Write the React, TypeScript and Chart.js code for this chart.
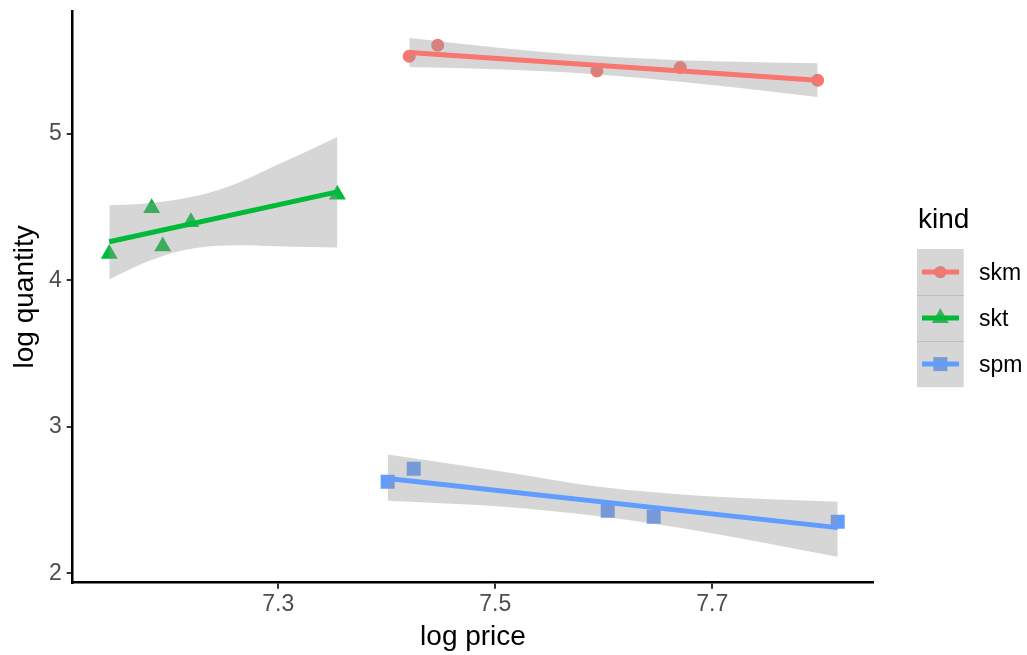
import React, { useEffect, useRef } from "react";
import { Chart, registerables } from "chart.js";
Chart.register(...registerables);

const FONT = "'Liberation Sans', Arial, Helvetica, sans-serif";

const kinds = ["skm", "skt", "spm"];
const kindColors = ["#F8766D", "#00BA38", "#619CFF"];
const keyMarkerColors = ["#D2847F", "#3DAD5F", "#779BD6"];
const pointStyles = ["circle", "triangle", "rect"];
const pointRadii = [6.5, 9.8, 9.9];

const xTicks = [7.3, 7.5, 7.7];
const yTicks = [2, 3, 4, 5];

// observed points
const skmX = [7.4207, 7.4469, 7.5937, 7.6705, 7.7971];
const skmY = [5.531, 5.606, 5.431, 5.454, 5.367];
const sktX = [7.1442, 7.1833, 7.1935, 7.2195, 7.3544];
const sktY = [4.182, 4.494, 4.233, 4.399, 4.586];
const spmX = [7.4008, 7.4248, 7.6036, 7.646, 7.8156];
const spmY = [2.625, 2.714, 2.427, 2.386, 2.352];

// fitted lines
const skmFitX = [7.4207, 7.7971];
const skmFitY = [5.556, 5.367];
const sktFitX = [7.1442, 7.3544];
const sktFitY = [4.264, 4.605];
const spmFitX = [7.4008, 7.8156];
const spmFitY = [2.648, 2.312];

// confidence bands
const skmBandX = [7.4207, 7.5074, 7.5937, 7.6705, 7.7338, 7.7971];
const skmBandHi = [5.656, 5.586, 5.532, 5.504, 5.491, 5.483];
const skmBandLo = [5.457, 5.44, 5.407, 5.357, 5.307, 5.252];
const sktBandX = [7.1442, 7.175, 7.206, 7.237, 7.268, 7.299, 7.33, 7.3544];
const sktBandHi = [4.514, 4.524, 4.551, 4.6, 4.683, 4.79, 4.895, 4.98];
const sktBandLo = [4.007, 4.116, 4.195, 4.234, 4.241, 4.234, 4.229, 4.225];
const spmBandX = [7.4008, 7.5074, 7.5996, 7.6917, 7.8156];
const spmBandHi = [2.812, 2.694, 2.587, 2.528, 2.489];
const spmBandLo = [2.496, 2.455, 2.386, 2.284, 2.113];

const X_MIN = 7.1105;
const X_MAX = 7.8484;
const Y_MIN = 1.936;
const Y_MAX = 5.84;

const zip = (xs: number[], ys: number[]) => xs.map((x, i) => ({ x, y: ys[i] }));

const pointsAll = [
  [skmX, skmY],
  [sktX, sktY],
  [spmX, spmY],
];
const fitsAll = [
  [skmFitX, skmFitY],
  [sktFitX, sktFitY],
  [spmFitX, spmFitY],
];
const bandsAll = [
  [skmBandX, skmBandHi, skmBandLo],
  [sktBandX, sktBandHi, sktBandLo],
  [spmBandX, spmBandHi, spmBandLo],
];

function buildDatasets() {
  const ds: any[] = [];
  kinds.forEach((k, i) => {
    ds.push({
      label: k + " points",
      data: zip(pointsAll[i][0], pointsAll[i][1]),
      showLine: false,
      pointStyle: pointStyles[i],
      pointRadius: pointRadii[i],
      pointBackgroundColor: kindColors[i],
      pointBorderWidth: 0,
      pointBorderColor: "transparent",
      order: 3,
    });
  });
  kinds.forEach((k, i) => {
    const [bx, hi, lo] = bandsAll[i];
    const upperIndex = ds.length;
    ds.push({
      label: k + " upper",
      data: zip(bx, hi),
      showLine: true,
      borderColor: "transparent",
      borderWidth: 0,
      pointRadius: 0,
      cubicInterpolationMode: "monotone",
      backgroundColor: "rgba(153,153,153,0.4)",
      fill: { target: upperIndex + 1 },
      order: 2,
    });
    ds.push({
      label: k + " lower",
      data: zip(bx, lo),
      showLine: true,
      borderColor: "transparent",
      borderWidth: 0,
      pointRadius: 0,
      cubicInterpolationMode: "monotone",
      fill: false,
      order: 2,
    });
  });
  kinds.forEach((k, i) => {
    ds.push({
      label: k,
      data: zip(fitsAll[i][0], fitsAll[i][1]),
      showLine: true,
      borderColor: kindColors[i],
      borderWidth: 5,
      pointRadius: 0,
      fill: false,
      order: 1,
    });
  });
  return ds;
}

function LegendKey({ idx }: { idx: number }) {
  const w = 46.7;
  const h = 46.2;
  const cy = h / 2;
  const cx = w / 2;
  let marker: React.ReactNode = null;
  if (pointStyles[idx] === "circle") {
    marker = <circle cx={cx} cy={cy} r={6.2} fill={keyMarkerColors[idx]} />;
  } else if (pointStyles[idx] === "triangle") {
    const r = 9.8;
    const p = [
      [cx, cy - r],
      [cx + r * Math.sin((2 * Math.PI) / 3), cy + r * 0.5],
      [cx - r * Math.sin((2 * Math.PI) / 3), cy + r * 0.5],
    ]
      .map((q) => q.join(","))
      .join(" ");
    marker = <polygon points={p} fill={keyMarkerColors[idx]} />;
  } else {
    marker = <rect x={cx - 7} y={cy - 7} width={14} height={14} fill={keyMarkerColors[idx]} />;
  }
  return (
    <svg width={w} height={h} style={{ display: "block" }}>
      <rect x={0} y={0} width={w} height={h} fill="#D6D6D6" />
      {marker}
      <line x1={5} x2={42} y1={cy} y2={cy} stroke={kindColors[idx]} strokeWidth={5} />
    </svg>
  );
}

export default function App() {
  const ref = useRef<HTMLCanvasElement | null>(null);

  useEffect(() => {
    if (!ref.current) return;
    const chart = new Chart(ref.current, {
      type: "scatter",
      data: { datasets: buildDatasets() },
      options: {
        animation: false,
        responsive: false,
        devicePixelRatio: 1,
        layout: { padding: { top: 11, right: 153.7, left: 0, bottom: 0 } },
        plugins: {
          legend: { display: false },
          tooltip: { enabled: false },
        },
        scales: {
          x: {
            type: "linear",
            min: X_MIN,
            max: X_MAX,
            afterBuildTicks: (s: any) => {
              s.ticks = xTicks.map((v) => ({ value: v }));
            },
            afterFit: (s: any) => {
              s.height = 72.3;
              s.paddingLeft = 0;
              s.paddingRight = 0;
            },
            ticks: {
              color: "#4D4D4D",
              font: { family: FONT, size: 23 },
              padding: 2,
              callback: (v: any) => Number(v).toFixed(1),
            },
            grid: {
              drawOnChartArea: false,
              drawTicks: true,
              tickLength: 6,
              color: "#333333",
              lineWidth: 2,
            },
            border: { color: "#000000", width: 2.5 },
            title: {
              display: true,
              text: "log price",
              color: "#000000",
              font: { family: FONT, size: 28 },
              padding: { top: 0, bottom: 1 },
            },
          },
          y: {
            type: "linear",
            min: Y_MIN,
            max: Y_MAX,
            afterBuildTicks: (s: any) => {
              s.ticks = yTicks.map((v) => ({ value: v }));
            },
            afterFit: (s: any) => {
              s.width = 72.7;
              s.paddingTop = 0;
              s.paddingBottom = 0;
            },
            ticks: {
              color: "#4D4D4D",
              font: { family: FONT, size: 23 },
              padding: 5,
              callback: (v: any) => String(v),
            },
            grid: {
              drawOnChartArea: false,
              drawTicks: true,
              tickLength: 6,
              color: "#333333",
              lineWidth: 2,
            },
            border: { color: "#000000", width: 2.5 },
            title: {
              display: true,
              text: "log quantity",
              color: "#000000",
              font: { family: FONT, size: 28 },
              padding: { top: 8, bottom: 0 },
            },
          },
        },
      } as any,
    });
    return () => chart.destroy();
  }, []);

  return (
    <div style={{ position: "absolute", left: 0, top: 0, width: 1027, height: 655, background: "#fff" }}>
      <canvas ref={ref} width={1027} height={655} style={{ position: "absolute", left: 0, top: 0 }} />
      <div
        style={{
          position: "absolute",
          left: 918,
          top: 203,
          fontFamily: FONT,
          fontSize: 28,
          lineHeight: "32px",
          color: "#000",
        }}
      >
        kind
      </div>
      {kinds.map((k, i) => (
        <div key={k} style={{ position: "absolute", left: 917.3, top: 249 + i * 46.2, width: 46.7, height: 46.2 }}>
          <LegendKey idx={i} />
          {i > 0 && (
            <div style={{ position: "absolute", left: 0, top: -0.5, width: 46.7, height: 1, background: "#BEBEBE" }} />
          )}
          <div
            style={{
              position: "absolute",
              left: 61.7,
              top: 0,
              height: 46.2,
              lineHeight: "46.2px",
              fontFamily: FONT,
              fontSize: 23,
              color: "#000",
              whiteSpace: "nowrap",
            }}
          >
            {k}
          </div>
        </div>
      ))}
    </div>
  );
}
